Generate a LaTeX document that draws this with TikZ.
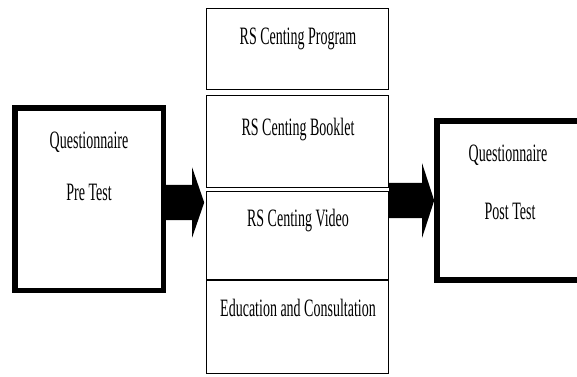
\documentclass[tikz,border=0pt]{standalone}
\usepackage{fontspec}
\setmainfont{Liberation Serif}[FakeStretch=0.56]
\usetikzlibrary{shapes.arrows}
\begin{document}
\begin{tikzpicture}[x=1pt,y=-1pt,
  heavybox/.style={draw, line width=5.5pt, inner sep=0pt},
  midbox/.style={draw, line width=1.1pt, inner sep=0pt, minimum width=181.9pt},
  txt/.style={font=\fontsize{25}{30}\selectfont, inner sep=0pt, anchor=base},
  blockarrow/.style={single arrow, fill=black, draw=none, inner xsep=0pt, inner ysep=17.5pt, anchor=tail, shape border rotate=0}]
\useasboundingbox (0,0) rectangle (577,376);
% left box
\node[heavybox, minimum width=148.5pt, minimum height=182.5pt] (pre) at (89,199) {};
\node[txt] (preA) at (89,148.3) {Questionnaire};
\node[txt] (preB) at (89,200.3) {Pre Test};
% right box (cut by the page edge)
\node[heavybox, line width=6pt, minimum width=144pt, minimum height=159pt] (post) at (509,200.5) {};
\node[txt] (postA) at (508,161.5) {Questionnaire};
\node[txt] (postB) at (510,219.5) {Post Test};
% middle column
\node[midbox, minimum height=81.4pt] (m1) at (297.5,48.75) {};
\node[midbox, minimum height=91.9pt] (m2) at (297.5,141.5) {};
\node[midbox, minimum height=87.9pt] (m3) at (297.5,235.5) {};
\node[midbox, minimum height=92.9pt] (m4) at (297.5,327) {};
\node[txt] (t1) at (298,44.7) {RS Centing Program};
\node[txt] (t2) at (298,135) {RS Centing Booklet};
\node[txt] (t3) at (298,226.6) {RS Centing Video};
\node[txt] (t4) at (298,316.3) {Education and Consultation};
% block arrows
\node[blockarrow, minimum height=38pt, single arrow head extend=17.5pt, single arrow tip angle=142] (arrL) at (pre.east |- 0,202.5) {};
\node[blockarrow, minimum height=45pt, single arrow head extend=19.5pt, single arrow tip angle=144] (arrR) at (m3.east |- 0,200.5) {};
\end{tikzpicture}
\end{document}
